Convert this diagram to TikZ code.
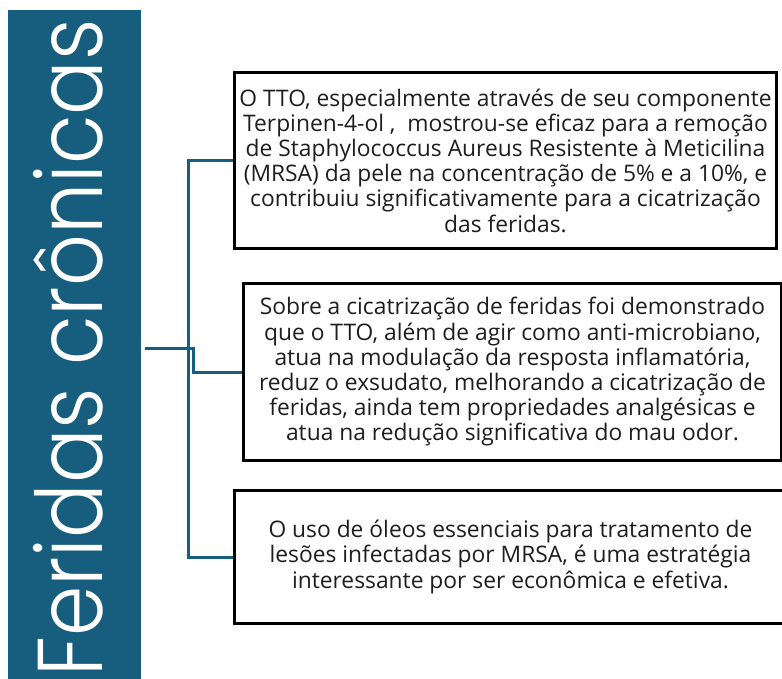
\documentclass[tikz,border=0pt]{standalone}
\usepackage{fontspec}
\setmainfont{Open Sans}
\newfontfamily\titlefont{Poppins Light}
\definecolor{teal}{RGB}{23,94,126}
\definecolor{txt}{RGB}{30,30,30}
\begin{document}
\begin{tikzpicture}[x=1pt,y=-1pt,
  box/.style={draw=black,line width=3pt,fill=white,anchor=north west,align=center,inner sep=0pt,
    text=txt,font=\fontsize{22.8}{25.2}\selectfont},
  conn/.style={draw=teal,line width=3pt}]
\useasboundingbox (0,0) rectangle (782,679);
\node[fill=teal,minimum width=133pt,minimum height=669pt,inner sep=0pt,anchor=north west] (banner) at (8,10) {};
\node[rotate=90,anchor=base,text=white,font=\titlefont\fontsize{92}{92}\selectfont] (title) at (102,348) {\scalebox{0.88}[1]{Feridas crônicas}};
\node[box,minimum width=542pt,minimum height=176pt] (box1) at (233,71) {O TTO, especialmente através de seu componente\\Terpinen-4-ol ,\ \ mostrou-se eficaz para a remoção\\de Staphylococcus Aureus Resistente à Meticilina\\(MRSA) da pele na concentração de 5\% e a 10\%, e\\contribuiu significativamente para a cicatrização\\das feridas.};
\node[box,minimum width=538pt,minimum height=177pt] (box2) at (242,282) {Sobre a cicatrização de feridas foi demonstrado\\que o TTO, além de agir como anti-microbiano,\\atua na modulação da resposta inflamatória,\\reduz o exsudato, melhorando a cicatrização de\\feridas, ainda tem propriedades analgésicas e\\atua na redução significativa do mau odor.};
\node[box,minimum width=552pt,minimum height=133pt] (box3) at (233,489) {O uso de óleos essenciais para tratamento de\\lesões infectadas por MRSA, é uma estratégia\\interessante por ser econômica e efetiva.};
\coordinate (hub) at (193,348);
\coordinate (spine) at (188,348);
\draw[conn] ([xshift=4pt]banner.east |- hub) -- (hub) -- (hub |- box2.west) -- (box2.west);
\draw[conn] (box1.west) -- (spine |- box1.west) -- (spine |- box3.west) -- (box3.west);
\end{tikzpicture}
\end{document}
